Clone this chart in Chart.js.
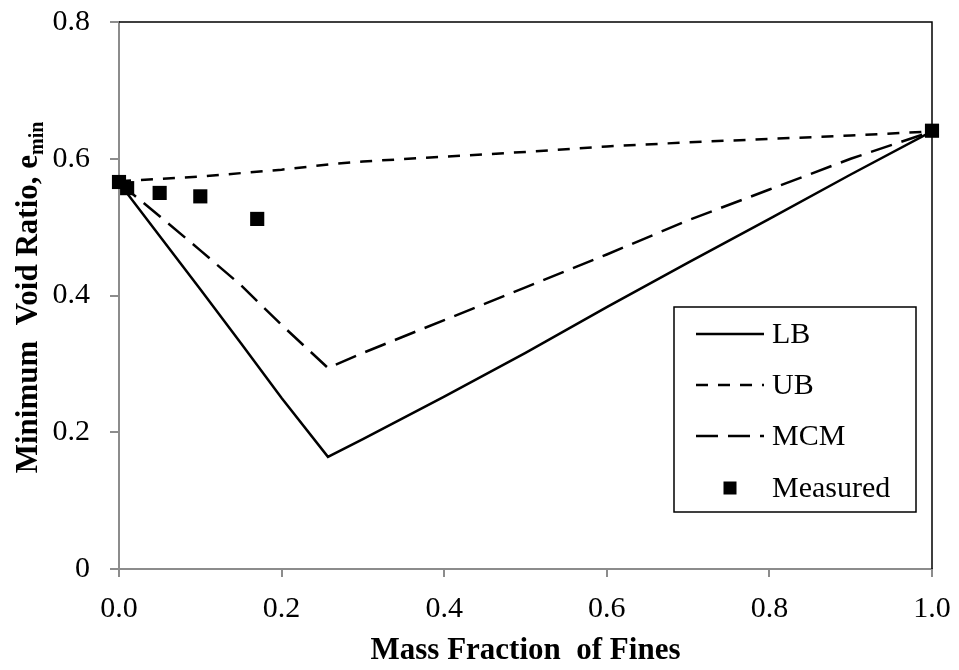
<!DOCTYPE html>
<html>
<head>
<meta charset="utf-8">
<script src="https://cdn.jsdelivr.net/npm/chart.js@4/dist/chart.umd.min.js"></script>
<style>
  body { margin: 0; background: #fff; }
  canvas { display: block; }
</style>
</head>
<body>
<canvas id="chart" width="959" height="670"></canvas>
<script>
let serif = '"Liberation Serif", "Times New Roman", serif';

// lower bound, upper bound and MCM curves
let lbX = [0, 0.05, 0.1, 0.15, 0.2, 0.257, 0.3, 0.4, 0.5, 0.6, 0.7, 0.8, 0.9, 1.0];
let lbY = [0.565, 0.487, 0.409, 0.33, 0.25, 0.164, 0.19, 0.252, 0.316, 0.383, 0.448, 0.512, 0.577, 0.64];

let ubX = [0, 0.1, 0.2, 0.26, 0.3, 0.4, 0.5, 0.6, 0.7, 0.8, 0.9, 1.0];
let ubY = [0.567, 0.574, 0.584, 0.592, 0.596, 0.603, 0.61, 0.618, 0.624, 0.629, 0.634, 0.64];

let mcmX = [0, 0.05, 0.1, 0.15, 0.2, 0.257, 0.3, 0.4, 0.5, 0.6, 0.7, 0.8, 0.9, 1.0];
let mcmY = [0.565, 0.516, 0.466, 0.415, 0.357, 0.294, 0.316, 0.364, 0.412, 0.46, 0.51, 0.555, 0.6, 0.64];

// measured e_min
let measX = [0, 0.01, 0.05, 0.1, 0.17, 1.0];
let measY = [0.566, 0.557, 0.55, 0.545, 0.512, 0.641];

let xTicks = [0, 0.2, 0.4, 0.6, 0.8, 1.0];
let yTicks = [0, 0.2, 0.4, 0.6, 0.8];

function pts(xs, ys) {
  return xs.map((x, i) => ({ x: x, y: ys[i] }));
}

// top and right frame lines
const frame = {
  id: "frame",
  afterDatasetsDraw(chart) {
    const a = chart.chartArea;
    const ctx = chart.ctx;
    ctx.save();
    ctx.strokeStyle = "#000";
    ctx.lineWidth = 1.5;
    ctx.beginPath();
    ctx.moveTo(a.left, a.top);
    ctx.lineTo(a.right, a.top);
    ctx.lineTo(a.right, a.bottom);
    ctx.stroke();
    ctx.restore();
  },
};

// y axis title with subscript
const yTitle = {
  id: "yTitle",
  afterDraw(chart) {
    const ctx = chart.ctx;
    const main = "Minimum  Void Ratio, e";
    const sub = "min";
    ctx.save();
    ctx.fillStyle = "#000";
    ctx.font = "bold 31px " + serif;
    const w1 = ctx.measureText(main).width;
    ctx.font = "bold 20px " + serif;
    const w2 = ctx.measureText(sub).width;
    const total = w1 + w2;
    const cy = (chart.chartArea.top + chart.chartArea.bottom) / 2 + 2;
    ctx.translate(37, cy + total / 2);
    ctx.rotate(-Math.PI / 2);
    ctx.textBaseline = "alphabetic";
    ctx.textAlign = "left";
    ctx.font = "bold 31px " + serif;
    ctx.fillText(main, 0, 0);
    ctx.font = "bold 20px " + serif;
    ctx.fillText(sub, w1, 6);
    ctx.restore();
  },
};

// boxed legend inside the plot
const boxLegend = {
  id: "boxLegend",
  afterDraw(chart) {
    const ctx = chart.ctx;
    const box = { left: 674, top: 307, right: 916, bottom: 512 };
    const rows = [334, 385, 436, 488];
    ctx.save();
    ctx.fillStyle = "#fff";
    ctx.fillRect(box.left, box.top, box.right - box.left, box.bottom - box.top);
    ctx.strokeStyle = "#000";
    ctx.lineWidth = 1.5;
    ctx.strokeRect(box.left, box.top, box.right - box.left, box.bottom - box.top);
    chart.data.datasets.forEach((ds, i) => {
      const y = rows[i];
      if (ds.showLine === false) {
        ctx.fillStyle = "#000";
        ctx.fillRect(730 - 6.5, y - 6.5, 13, 13);
      } else {
        ctx.strokeStyle = "#000";
        ctx.lineWidth = ds.borderWidth;
        ctx.setLineDash(ds.borderDash || []);
        ctx.beginPath();
        ctx.moveTo(696, y);
        ctx.lineTo(764, y);
        ctx.stroke();
        ctx.setLineDash([]);
      }
      ctx.fillStyle = "#000";
      ctx.font = "30px " + serif;
      ctx.textBaseline = "middle";
      ctx.textAlign = "left";
      ctx.fillText(ds.label, 772, y + 1);
    });
    ctx.restore();
  },
};

function lineSet(label, xs, ys, dash) {
  return {
    label: label,
    data: pts(xs, ys),
    showLine: true,
    borderColor: "#000",
    borderWidth: 2.5,
    borderDash: dash,
    pointRadius: 0,
    tension: 0,
    fill: false,
  };
}

new Chart("chart", {
  type: "scatter",
  data: {
    datasets: [
      lineSet("LB", lbX, lbY, []),
      lineSet("UB", ubX, ubY, [12, 10]),
      lineSet("MCM", mcmX, mcmY, [22, 10]),
      {
        label: "Measured",
        data: pts(measX, measY),
        showLine: false,
        pointStyle: "rect",
        pointRadius: 10,
        pointHoverRadius: 10,
        backgroundColor: "#000",
        borderWidth: 0,
        clip: false,
      },
    ],
  },
  plugins: [frame, yTitle, boxLegend],
  options: {
    responsive: false,
    animation: false,
    layout: { padding: { top: 22, right: 27, left: 0, bottom: 0 } },
    plugins: {
      legend: { display: false },
      tooltip: { enabled: false },
    },
    scales: {
      x: {
        type: "linear",
        min: 0,
        max: 1,
        afterBuildTicks(axis) {
          axis.ticks = xTicks.map((v) => ({ value: v }));
        },
        afterFit(axis) {
          axis.height = 101;
          axis.paddingLeft = 0;
          axis.paddingRight = 0;
        },
        grid: {
          drawOnChartArea: false,
          drawTicks: true,
          tickLength: 8,
          color: "#8c8c8c",
          lineWidth: 2,
        },
        border: { color: "#8c8c8c", width: 2 },
        ticks: {
          autoSkip: false,
          maxRotation: 0,
          padding: 14,
          color: "#000",
          font: { family: serif, size: 30 },
          callback: (v) => Number(v).toFixed(1),
        },
        title: {
          display: true,
          text: "Mass Fraction  of Fines",
          color: "#000",
          font: { family: serif, size: 31, weight: "bold" },
          padding: { top: 0, bottom: 0 },
        },
      },
      y: {
        min: 0,
        max: 0.8,
        afterBuildTicks(axis) {
          axis.ticks = yTicks.map((v) => ({ value: v }));
        },
        afterFit(axis) {
          axis.width = 119;
          axis.paddingTop = 0;
          axis.paddingBottom = 0;
        },
        grid: {
          drawOnChartArea: false,
          drawTicks: true,
          tickLength: 9,
          color: "#8c8c8c",
          lineWidth: 2,
        },
        border: { color: "#8c8c8c", width: 2 },
        ticks: {
          padding: 20,
          color: "#000",
          font: { family: serif, size: 30 },
          callback: (v) => (v === 0 ? "0" : Number(v).toFixed(1)),
        },
      },
    },
  },
});
</script>
</body>
</html>
